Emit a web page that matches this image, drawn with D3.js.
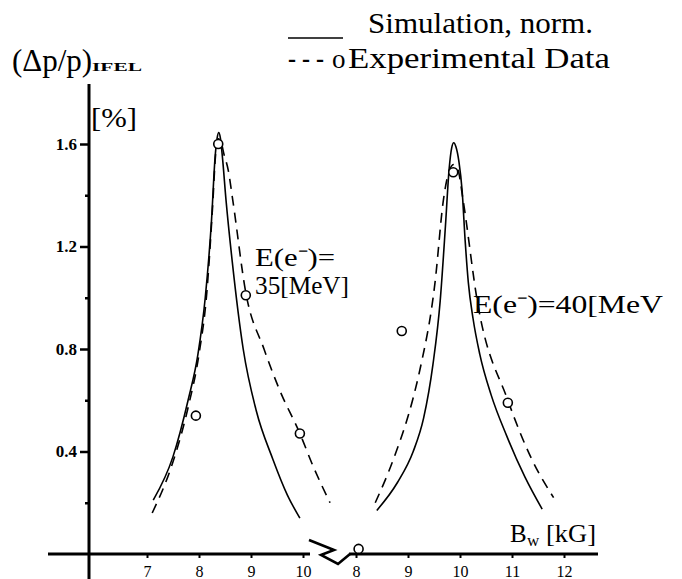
<!DOCTYPE html>
<html>
<head>
<meta charset="utf-8">
<script src="https://cdn.jsdelivr.net/npm/d3@7"></script>
<style>
  body { margin: 0; background: #fff; }
  svg text { font-family: "Liberation Serif", "Times New Roman", Times, serif; fill: #000; }
</style>
</head>
<body>
<div id="chart"></div>
<script>
// values: [B_w in kG, dp/p in %]
var sim35 = [[7.12,0.21],[7.5,0.38],[7.79,0.6],[7.98,0.78],[8.12,1.0],[8.24,1.3],[8.31,1.55],[8.35,1.625],[8.38,1.645],[8.41,1.625],[8.45,1.55],[8.52,1.38],[8.64,1.14],[8.85,0.8],[9.1,0.56],[9.42,0.37],[9.7,0.23],[9.94,0.14]];
var dash35 = [[7.1,0.16],[7.5,0.36],[7.8,0.58],[8.0,0.78],[8.15,1.02],[8.26,1.35],[8.32,1.56],[8.37,1.62],[8.42,1.61],[8.48,1.56],[8.56,1.5],[8.65,1.38],[8.9,1.02],[9.25,0.8],[9.55,0.64],[9.94,0.47],[10.2,0.34],[10.52,0.2]];
var exp35 = [[7.94,0.54],[8.37,1.60],[8.9,1.01],[9.94,0.47]];

var sim40 = [[8.4,0.17],[8.8,0.28],[9.1,0.4],[9.3,0.53],[9.48,0.74],[9.62,0.99],[9.72,1.28],[9.79,1.5],[9.84,1.585],[9.88,1.605],[9.92,1.59],[9.98,1.53],[10.04,1.42],[10.1,1.22],[10.16,1.06],[10.25,0.92],[10.38,0.78],[10.6,0.62],[10.9,0.46],[11.25,0.3],[11.58,0.175]];
var dash40 = [[8.37,0.2],[8.72,0.37],[9.1,0.61],[9.23,0.72],[9.52,1.06],[9.68,1.38],[9.8,1.5],[9.88,1.52],[9.96,1.5],[10.06,1.38],[10.33,0.99],[10.92,0.6],[11.38,0.37],[11.8,0.22]];
var exp40 = [[8.05,0.02],[8.88,0.87],[9.87,1.49],[10.92,0.59]];

var yMajor = [0.4, 0.8, 1.2, 1.6],
    yMinor = [0.2, 0.6, 1.0, 1.4],
    xTicksLeft = [7, 8, 9, 10],
    xTicksRight = [8, 9, 10, 11, 12];

var width = 682, height = 579;

var y = d3.scaleLinear().domain([0, 1.6]).range([554, 144]),
    xL = d3.scaleLinear().domain([7, 10]).range([147, 303]),
    xR = d3.scaleLinear().domain([8, 12]).range([356, 564]);

var svg = d3.select("#chart").append("svg")
    .attr("width", width)
    .attr("height", height);

var y0 = y(0), axisX = 89;

// axis lines
svg.append("line").attr("x1", axisX).attr("x2", axisX).attr("y1", 84).attr("y2", height)
    .attr("stroke", "#000").attr("stroke-width", 3);
svg.append("line").attr("x1", 48).attr("x2", 310).attr("y1", y0).attr("y2", y0)
    .attr("stroke", "#000").attr("stroke-width", 3);
svg.append("line").attr("x1", 349).attr("x2", 598).attr("y1", y0).attr("y2", y0)
    .attr("stroke", "#000").attr("stroke-width", 3);
// axis break
svg.append("polyline")
    .attr("points", [[309, y0 - 14], [334, y0 - 4], [321, y0 + 1], [338, y0 + 10], [350, y0]].join(" "))
    .attr("fill", "none").attr("stroke", "#000").attr("stroke-width", 2.6).attr("stroke-linejoin", "miter");

// y ticks
var gy = svg.append("g").attr("transform", "translate(" + axisX + ",0)")
    .call(d3.axisLeft(y).tickValues(yMajor).tickSize(9).tickPadding(3).tickFormat(d3.format(".1f")));
gy.select(".domain").remove();
gy.selectAll("text").style("font-size", "17px").style("font-weight", "bold");
var gy2 = svg.append("g").attr("transform", "translate(" + axisX + ",0)")
    .call(d3.axisLeft(y).tickValues(yMinor).tickSize(4).tickFormat(""));
gy2.select(".domain").remove();
svg.selectAll(".tick line").attr("stroke-width", 2.5);

// x ticks, two segments
[[xL, xTicksLeft], [xR, xTicksRight]].forEach(function (s) {
    var g = svg.append("g").attr("transform", "translate(0," + y0 + ")")
        .call(d3.axisBottom(s[0]).tickValues(s[1]).tickSize(4).tickPadding(8).tickFormat(d3.format("d")));
    g.select(".domain").remove();
    g.selectAll("line").attr("stroke-width", 2);
    g.selectAll("text").style("font-size", "16px");
});

// curves
var line = function (xs) {
    return d3.line().x(function (d) { return xs(d[0]); }).y(function (d) { return y(d[1]); })
        .curve(d3.curveMonotoneX);
};
var curves = [
    {data: sim35, x: xL, dash: null},
    {data: dash35, x: xL, dash: "10,7"},
    {data: sim40, x: xR, dash: null},
    {data: dash40, x: xR, dash: "10,7"}
];
curves.forEach(function (c) {
    svg.append("path").datum(c.data)
        .attr("d", line(c.x))
        .attr("fill", "none")
        .attr("stroke", "#000")
        .attr("stroke-width", 1.6)
        .attr("stroke-dasharray", c.dash);
});

// experimental points
[[exp35, xL], [exp40, xR]].forEach(function (s) {
    svg.append("g").selectAll("circle")
        .data(s[0]).enter().append("circle")
        .attr("cx", function (d) { return s[1](d[0]); })
        .attr("cy", function (d) { return y(d[1]); })
        .attr("r", 4.5)
        .attr("fill", "#fff")
        .attr("stroke", "#000")
        .attr("stroke-width", 1.6);
});

// labels
function label(x, yy, size, txt, len) {
    var t = svg.append("text").attr("x", x).attr("y", yy).style("font-size", size + "px").text(txt);
    if (len) t.attr("textLength", len).attr("lengthAdjust", "spacingAndGlyphs");
    return t;
}
label(12, 71, 31, "(\u0394p/p)");
label(92, 71, 13, "IFEL", 50).style("font-weight", "bold");
label(91, 127, 28, "[%]", 46);

// legend
svg.append("line").attr("x1", 288).attr("x2", 343).attr("y1", 38).attr("y2", 38)
    .attr("stroke", "#000").attr("stroke-width", 1.6);
label(368, 33, 30, "Simulation, norm.", 225);
label(288, 68, 30, "- - -", 36);
label(332, 68, 27, "o");
label(348, 68, 30, "Experimental Data", 262);

// energy annotations
label(255, 266, 25, "E(e\u207B)=", 80);
label(255, 294, 25, "35[MeV]", 94);
label(473, 313, 25, "E(e\u207B)=40[MeV", 190);

label(510, 542, 25, "B");
label(527, 546, 17, "w");
label(546, 542, 25, "[kG]", 50);
</script>
</body>
</html>
